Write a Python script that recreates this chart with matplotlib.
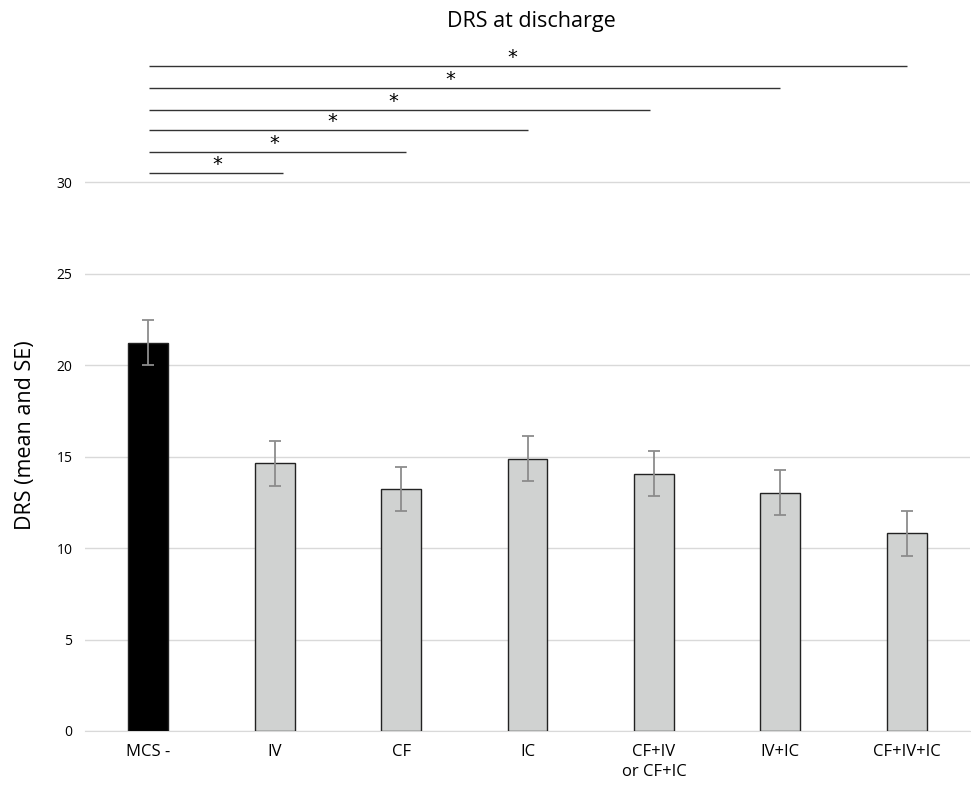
import matplotlib.pyplot as plt

# data
groups = ['MCS -', 'IV', 'CF', 'IC', 'CF+IV\nor CF+IC', 'IV+IC', 'CF+IV+IC']
means = [21.22, 14.63, 13.22, 14.88, 14.06, 13.03, 10.80]
se = [1.22, 1.22, 1.22, 1.24, 1.24, 1.24, 1.22]
colors = ['#000000', '#d0d2d1', '#d0d2d1', '#d0d2d1', '#d0d2d1', '#d0d2d1', '#d0d2d1']

# significance brackets: MCS- vs each group
sig_end = [1.07, 2.04, 3.0, 3.97, 5.0, 6.0]
sig_y = [30.5, 31.65, 32.85, 33.95, 35.15, 36.35]
star_x = [0.55, 1.0, 1.46, 1.94, 2.39, 2.88]

plt.rcParams['font.family'] = ['Open Sans', 'DejaVu Sans']

fig = plt.figure(figsize=(9.71, 7.87), dpi=100)
ax = fig.add_axes([85 / 971, 1 - 731 / 787, 885 / 971, 677 / 787])

x = list(range(len(groups)))
ax.bar(x, means, width=0.316, color=colors, edgecolor='#222222', linewidth=1.0, zorder=3)
ax.errorbar(x, means, yerr=se, fmt='none', ecolor='#8c8c8c', elinewidth=1.3,
            capsize=4, capthick=1.3, zorder=4)

for xe, y, xs in zip(sig_end, sig_y, star_x):
    ax.plot([0.01, xe], [y, y], color='#333333', lw=1.0, solid_capstyle='butt', zorder=3)
    ax.text(xs, y - 0.05, '*', ha='center', va='bottom', fontsize=14, family='DejaVu Sans')

ax.set_xlim(-0.5, 6.5)
ax.set_ylim(0, 37)
ax.set_yticks([0, 5, 10, 15, 20, 25, 30])
ax.set_xticks(x)
ax.set_xticklabels(groups, fontsize=12, linespacing=1.35)
ax.tick_params(axis='y', labelsize=10, length=0, pad=9)
ax.tick_params(axis='x', length=0, pad=9)
ax.grid(axis='y', color='#d9d9d9', lw=1.0, zorder=0)
for s in ['top', 'right', 'left']:
    ax.spines[s].set_visible(False)
ax.spines['bottom'].set_color('#d9d9d9')

fig.text(25 / 971, 1 - 435 / 787, 'DRS (mean and SE)', rotation=90,
         ha='center', va='center', fontsize=15.5)
fig.text(531 / 971, 1 - 21 / 787, 'DRS at discharge', ha='center', va='center', fontsize=15.5)

fig.savefig('out.png', dpi=100)
